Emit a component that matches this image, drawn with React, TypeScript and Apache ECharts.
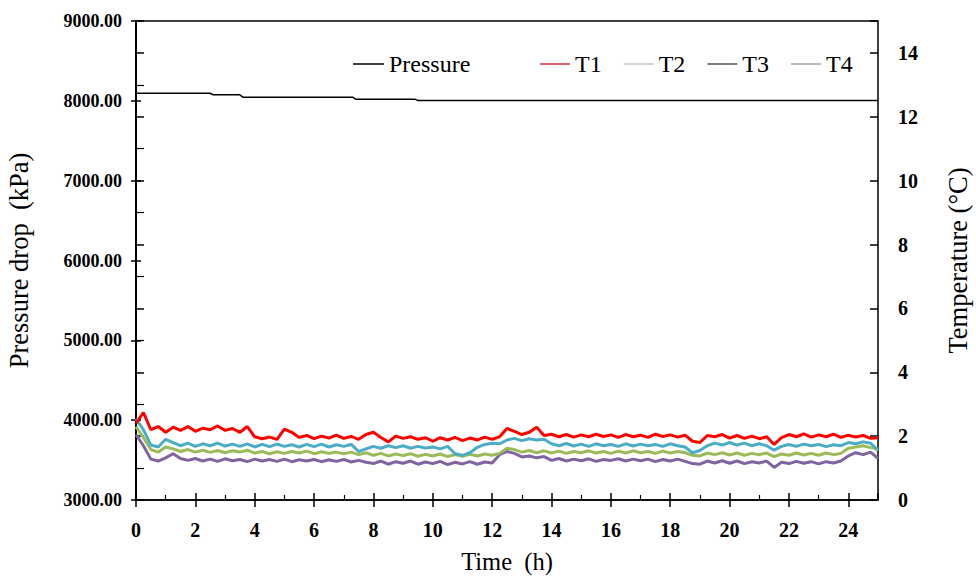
import React, { useEffect, useRef } from "react";
import * as echarts from "echarts";

const HOURS = [
  0, 0.25, 0.5, 0.75, 1, 1.25, 1.5, 1.75, 2, 2.25, 2.5, 2.75, 3, 3.25, 3.5, 3.75,
  4, 4.25, 4.5, 4.75, 5, 5.25, 5.5, 5.75, 6, 6.25, 6.5, 6.75, 7, 7.25, 7.5, 7.75,
  8, 8.25, 8.5, 8.75, 9, 9.25, 9.5, 9.75, 10, 10.25, 10.5, 10.75, 11, 11.25, 11.5, 11.75,
  12, 12.25, 12.5, 12.75, 13, 13.25, 13.5, 13.75, 14, 14.25, 14.5, 14.75, 15, 15.25, 15.5, 15.75,
  16, 16.25, 16.5, 16.75, 17, 17.25, 17.5, 17.75, 18, 18.25, 18.5, 18.75, 19, 19.25, 19.5, 19.75,
  20, 20.25, 20.5, 20.75, 21, 21.25, 21.5, 21.75, 22, 22.25, 22.5, 22.75, 23, 23.25, 23.5, 23.75,
  24, 24.25, 24.5, 24.75, 25,
];

const T1 = [
  2.40, 2.74, 2.20, 2.30, 2.12, 2.28, 2.18, 2.30, 2.15, 2.25, 2.20, 2.32, 2.18, 2.24, 2.12, 2.30,
  1.98, 1.92, 1.97, 1.90, 2.22, 2.12, 1.96, 2.02, 1.92, 2.00, 1.94, 2.03, 1.93, 1.99, 1.90, 2.05,
  2.12, 1.96, 1.82, 2.00, 1.93, 1.98, 1.90, 1.95, 1.84, 1.95, 1.88, 1.96, 1.86, 1.94, 1.88, 1.97,
  1.90, 1.98, 2.24, 2.15, 2.05, 2.12, 2.28, 2.02, 2.06, 1.98, 2.05, 1.97, 2.04, 1.98, 2.06, 1.99,
  2.04, 1.96, 2.05, 1.98, 2.03, 1.96, 2.06, 1.99, 2.04, 1.97, 2.03, 1.84, 1.80, 2.02, 1.98, 2.05,
  1.94, 2.02, 1.93, 2.00, 1.92, 1.98, 1.74, 1.95, 2.05, 1.98, 2.07, 1.97, 2.04, 1.98, 2.06, 1.96,
  2.03, 1.97, 2.02, 1.93, 1.95,
];

const T2 = [
  2.55, 2.20, 1.72, 1.66, 1.90, 1.80, 1.70, 1.78, 1.68, 1.76, 1.70, 1.78, 1.69, 1.75, 1.68, 1.76,
  1.66, 1.74, 1.67, 1.75, 1.68, 1.73, 1.66, 1.74, 1.67, 1.75, 1.66, 1.73, 1.68, 1.74, 1.52, 1.60,
  1.68, 1.62, 1.70, 1.64, 1.70, 1.62, 1.68, 1.63, 1.66, 1.60, 1.68, 1.45, 1.40, 1.48, 1.65, 1.74,
  1.78, 1.76, 1.88, 1.93, 1.86, 1.92, 1.88, 1.90, 1.76, 1.70, 1.77, 1.69, 1.75, 1.68, 1.76, 1.70,
  1.74, 1.68, 1.76, 1.69, 1.75, 1.70, 1.74, 1.68, 1.76, 1.70, 1.66, 1.48, 1.55, 1.70, 1.78, 1.72,
  1.80, 1.72, 1.78, 1.70, 1.76, 1.70, 1.56, 1.68, 1.74, 1.68, 1.75, 1.70, 1.74, 1.67, 1.73, 1.70,
  1.80, 1.76, 1.82, 1.78, 1.55,
];

const T3 = [
  2.30, 1.95, 1.58, 1.50, 1.66, 1.60, 1.52, 1.58, 1.50, 1.56, 1.49, 1.55, 1.48, 1.54, 1.50, 1.56,
  1.47, 1.52, 1.45, 1.51, 1.46, 1.52, 1.47, 1.53, 1.45, 1.51, 1.46, 1.50, 1.45, 1.50, 1.42, 1.48,
  1.40, 1.46, 1.38, 1.44, 1.39, 1.45, 1.37, 1.43, 1.38, 1.44, 1.36, 1.42, 1.37, 1.43, 1.38, 1.44,
  1.40, 1.46, 1.62, 1.58, 1.50, 1.55, 1.48, 1.54, 1.47, 1.53, 1.46, 1.52, 1.48, 1.54, 1.47, 1.52,
  1.46, 1.53, 1.47, 1.54, 1.48, 1.52, 1.46, 1.53, 1.47, 1.52, 1.48, 1.40, 1.38, 1.47, 1.42, 1.48,
  1.41, 1.47, 1.40, 1.46, 1.42, 1.47, 1.36, 1.44, 1.40, 1.47, 1.41, 1.46, 1.40, 1.47, 1.42, 1.46,
  1.62, 1.66, 1.70, 1.64, 1.60,
];

const T4 = [
  2.05, 1.70, 1.28, 1.22, 1.32, 1.45, 1.30, 1.24, 1.30, 1.22, 1.28, 1.21, 1.29, 1.23, 1.27, 1.20,
  1.28, 1.22, 1.27, 1.21, 1.28, 1.20, 1.26, 1.22, 1.27, 1.20, 1.26, 1.21, 1.27, 1.19, 1.24, 1.18,
  1.14, 1.22, 1.12, 1.20, 1.15, 1.22, 1.12, 1.19, 1.14, 1.21, 1.11, 1.18, 1.13, 1.20, 1.12, 1.19,
  1.16, 1.42, 1.52, 1.46, 1.35, 1.38, 1.32, 1.36, 1.24, 1.30, 1.22, 1.28, 1.23, 1.29, 1.21, 1.27,
  1.24, 1.29, 1.22, 1.28, 1.23, 1.28, 1.20, 1.27, 1.22, 1.28, 1.21, 1.14, 1.12, 1.22, 1.16, 1.23,
  1.15, 1.22, 1.14, 1.20, 1.16, 1.22, 1.02, 1.18, 1.14, 1.21, 1.15, 1.20, 1.13, 1.20, 1.16, 1.22,
  1.38, 1.48, 1.42, 1.50, 1.30,
];

const P_HOURS = [0, 2.5, 2.6, 3.5, 3.6, 7.3, 7.4, 9.4, 9.5, 25];
const PRESSURE = [8095, 8095, 8075, 8075, 8046, 8046, 8021, 8021, 8003, 8003];

const FONT = "'Liberation Serif', 'Times New Roman', serif";

function pairs(xs: number[], ys: number[]) {
  return xs.map((x, i) => [x, ys[i]]);
}

export default function App() {
  const ref = useRef<HTMLDivElement>(null);
  useEffect(() => {
    if (!ref.current) return;
    const chart = echarts.init(ref.current, undefined, { renderer: "svg" });
    const axisLine = { show: true, lineStyle: { color: "#000", width: 1.5 } };
    const tempSeries = (name: string, data: number[], color: string) => ({
      name,
      type: "line",
      xAxisIndex: 0,
      yAxisIndex: 1,
      symbol: "none",
      data: pairs(HOURS, data),
      lineStyle: { color, width: 3 },
      itemStyle: { color },
    });
    const legendText = { fontFamily: FONT, fontSize: 24, color: "#000" };
    chart.setOption({
      animation: false,
      backgroundColor: "#fff",
      textStyle: { fontFamily: FONT, color: "#000" },
      grid: {
        left: 136,
        right: 98,
        top: 21,
        bottom: 76,
        containLabel: false,
        outerBoundsMode: "none",
        show: true,
        borderColor: "#000",
        borderWidth: 1.5,
        backgroundColor: "transparent",
      },
      legend: [
        {
          data: [{ name: "Pressure", itemStyle: { color: "#000" } }],
          left: 348,
          top: 47,
          icon: "rect",
          itemWidth: 31,
          itemHeight: 1.5,
          textStyle: legendText,
        },
        {
          data: [
            { name: "T1", itemStyle: { color: "#d0303c" } },
            { name: "T2", itemStyle: { color: "#c4c4c4" } },
            { name: "T3", itemStyle: { color: "#555555" } },
            { name: "T4", itemStyle: { color: "#a0a0a0" } },
          ],
          left: 535,
          top: 47,
          icon: "rect",
          itemWidth: 30,
          itemHeight: 1.5,
          itemGap: 22,
          textStyle: legendText,
        },
      ],
      xAxis: [
        {
          type: "value",
          min: 0,
          max: 25,
          interval: 2,
          position: "bottom",
          name: "Time  (h)",
          nameLocation: "middle",
          nameGap: 49,
          nameTextStyle: { fontFamily: FONT, fontSize: 24.5, color: "#000" },
          axisLine,
          axisTick: { show: true, inside: false, length: 7, lineStyle: { color: "#000", width: 1.5 } },
          axisLabel: {
            showMaxLabel: false,
            margin: 20,
            fontFamily: FONT,
            fontSize: 20,
            fontWeight: "bold",
            color: "#000",
          },
          splitLine: { show: false },
        },
        {
          type: "value",
          min: 0,
          max: 25,
          interval: 2,
          position: "bottom",
          axisLine: { show: false },
          axisTick: { show: true, inside: true, length: 7, lineStyle: { color: "#000", width: 1.5 } },
          minorTick: { show: true, splitNumber: 2, length: 5, lineStyle: { color: "#000", width: 1.2 } },
          axisLabel: { show: false },
          splitLine: { show: false },
        },
      ],
      yAxis: [
        {
          type: "value",
          min: 3000,
          max: 9000,
          interval: 1000,
          position: "left",
          name: "Pressure drop  (kPa)",
          nameLocation: "middle",
          nameGap: 104,
          nameRotate: 90,
          nameTextStyle: { fontFamily: FONT, fontSize: 26.5, color: "#000" },
          axisLine,
          axisTick: { show: true, inside: false, length: 5, lineStyle: { color: "#000", width: 1.5 } },
          axisLabel: {
            margin: 14,
            fontFamily: FONT,
            fontSize: 18,
            fontWeight: "bold",
            color: "#000",
            formatter: (v: number) => v.toFixed(2),
          },
          splitLine: { show: false },
        },
        {
          type: "value",
          min: 0,
          max: 15,
          interval: 2,
          position: "right",
          name: "Temperature (°C)",
          nameLocation: "middle",
          nameGap: 66,
          nameRotate: 90,
          nameTextStyle: { fontFamily: FONT, fontSize: 26.5, color: "#000" },
          axisLine,
          axisTick: { show: true, inside: false, length: 8, lineStyle: { color: "#000", width: 1.5 } },
          minorTick: { show: true, splitNumber: 2, length: 8, lineStyle: { color: "#000", width: 1.2 } },
          axisLabel: {
            showMaxLabel: false,
            margin: 20,
            fontFamily: FONT,
            fontSize: 20,
            fontWeight: "bold",
            color: "#000",
          },
          splitLine: { show: false },
        },
        {
          type: "value",
          min: 3000,
          max: 9000,
          interval: 1000,
          position: "left",
          axisLine: { show: false },
          axisTick: { show: true, inside: true, length: 5, lineStyle: { color: "#000", width: 1.5 } },
          axisLabel: { show: false },
          splitLine: { show: false },
        },
        {
          type: "value",
          min: 0,
          max: 15,
          interval: 2,
          position: "right",
          axisLine: { show: false },
          axisTick: { show: true, inside: true, length: 8, lineStyle: { color: "#000", width: 1.5 } },
          axisLabel: { show: false },
          splitLine: { show: false },
        },
      ],
      series: [
        {
          name: "Pressure",
          type: "line",
          xAxisIndex: 0,
          yAxisIndex: 0,
          symbol: "none",
          data: pairs(P_HOURS, PRESSURE),
          lineStyle: { color: "#000", width: 1.5 },
          itemStyle: { color: "#000" },
        },
        tempSeries("T4", T4, "#8064A2"),
        tempSeries("T3", T3, "#9BBB59"),
        tempSeries("T2", T2, "#4BACC6"),
        tempSeries("T1", T1, "#FF0000"),
      ],
    });
    return () => chart.dispose();
  }, []);
  return (
    <div
      ref={ref}
      style={{ position: "fixed", left: 0, top: 0, width: 976, height: 576, background: "#fff" }}
    />
  );
}
